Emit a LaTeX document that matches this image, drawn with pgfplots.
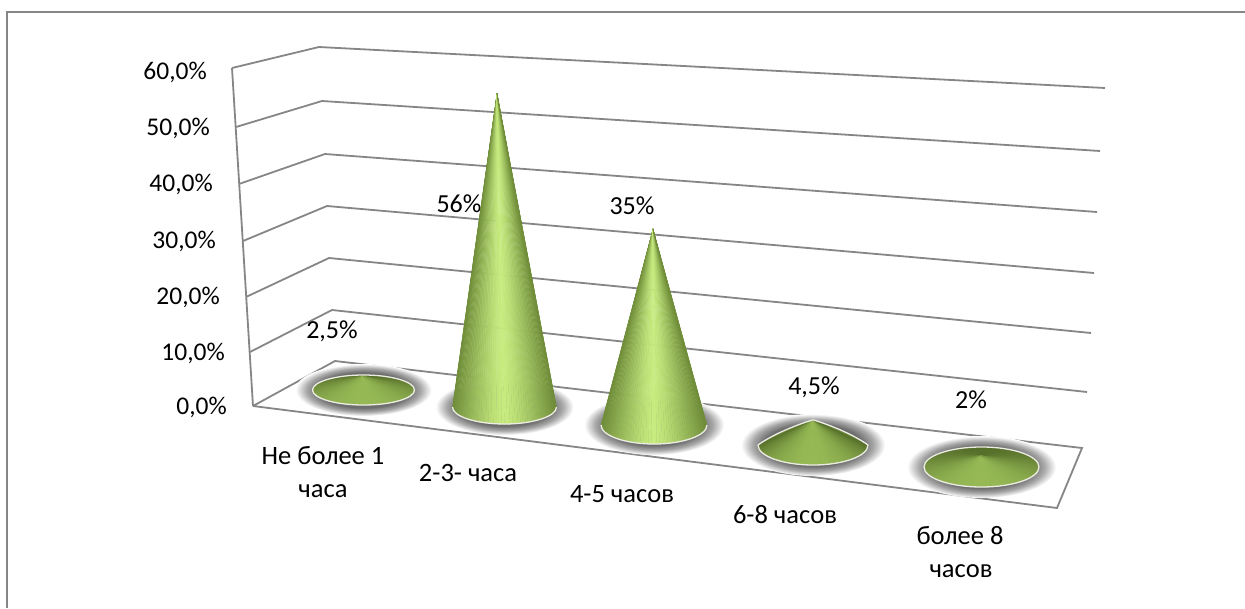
\documentclass[border=0pt]{standalone}
\usepackage{pgfplots}
\usepackage{pgfplotstable}
\usepackage{fontspec}
\setmainfont{Carlito}
\pgfplotsset{compat=1.18}
\definecolor{gridc}{HTML}{868686}
\definecolor{glowc}{HTML}{6E6E6E}
\definecolor{glowm}{HTML}{A8A8A8}
\definecolor{tallhi}{HTML}{C8EC80}
\definecolor{talllo}{HTML}{6F8D38}
\definecolor{lowhi}{HTML}{96B955}
\definecolor{lowlo}{HTML}{566F2A}
\definecolor{rimc}{HTML}{ECECE4}
\pgfdeclareradialshading{glow}{\pgfpoint{0bp}{0bp}}{color(0bp)=(glowc); color(17bp)=(glowc); color(21bp)=(glowm); color(25bp)=(white); color(50bp)=(white)}
% px, py: base centre in picture pixels; pct: percentage; rest: cone footprint
% low: 0 tall cone, 1 flat cone seen from above, 2 flat cone with its tip above the rim
\pgfplotstableread{
px     py   rx    ry   rot   dx    pct    low
363.5  390  51    15   2.7   0     2.5    1
504.5  407  52    17   1     -7.5  56     0
654    425  53    19   0     -1    35     0
813    445  55    20   0     0     4.5    2
981.5  467  57.5  20   -3    0     2      1
}\conetable
\newcommand\conebody{%
  \pgfmathsetmacro\cH{\val*5.6}%
  \pgfmathtruncatemacro\lowi{\low}%
  \begin{scope}[rotate=\rot]
  \ifnum\lowi=1
    \foreach \t in {0,4,...,356}{%
      \pgfmathsetmacro\b{50-50*sin(\t+2)}%
      \pgfmathsetmacro\te{\t+4}%
      \fill[lowhi!\b!lowlo,draw=lowhi!\b!lowlo,line width=0.5pt,line join=round]
        (\dx pt,\cH pt) -- (\t:\rx pt and \ry pt) -- (\te:\rx pt and \ry pt) -- cycle;
    }
    \draw[rimc,line width=1.3pt] (0,0) ellipse [x radius=\rx pt,y radius=\ry pt];
  \else
  \ifnum\lowi=2
    \pgfmathsetmacro\ca{0.72*\rx}\pgfmathsetmacro\cb{0.55*\ry}%
    \pgfmathsetmacro\cc{0.3*\rx}\pgfmathsetmacro\cd{0.8*\cH}%
    \def\silhouette{(-\rx pt,0) arc [start angle=180,end angle=360,x radius=\rx pt,y radius=\ry pt]
      .. controls (\ca pt,\cb pt) and (\cc pt,\cd pt) .. (\dx pt,\cH pt)
      .. controls (-\cc pt,\cd pt) and (-\ca pt,\cb pt) .. cycle}%
    \fill[lowhi!25!lowlo] \silhouette;
    \foreach \t in {180,184,...,356}{%
      \pgfmathsetmacro\b{100*(-sin(\t+2))}%
      \pgfmathsetmacro\te{\t+4}%
      \fill[lowhi!\b!lowlo,draw=lowhi!\b!lowlo,line width=0.5pt,line join=round]
        (\dx pt,\cH pt) -- (\t:\rx pt and \ry pt) -- (\te:\rx pt and \ry pt) -- cycle;
    }
    \draw[rimc,line width=1.3pt,line join=round] \silhouette;
  \else
    \foreach \t in {180,183,...,357}{%
      \pgfmathsetmacro\b{100*(1-abs(cos(\t+1.5))^1.3)}%
      \pgfmathsetmacro\te{\t+3}%
      \fill[tallhi!\b!talllo,draw=tallhi!\b!talllo,line width=0.3pt,line join=round]
        (\dx pt,\cH pt) -- (\t:\rx pt and \ry pt) -- (\te:\rx pt and \ry pt) -- cycle;
    }
    \draw[rimc,line width=1.3pt] (-\rx pt,0) arc [start angle=180,end angle=360,x radius=\rx pt,y radius=\ry pt];
  \fi\fi
  \end{scope}%
}
\pgfplotsset{
  conedata/.style={
    only marks,scatter,mark=*,mark size=0pt,draw=none,fill=none,
    visualization depends on={\thisrow{rx}\as\rx},
    visualization depends on={\thisrow{ry}\as\ry},
    visualization depends on={\thisrow{rot}\as\rot},
    visualization depends on={\thisrow{dx}\as\dx},
    visualization depends on={\thisrow{pct}\as\val},
    visualization depends on={\thisrow{low}\as\low},
  },
  gl/.style={gridc,line width=1.8pt,line join=miter,mark=none,forget plot},
}
\tikzset{
  tck/.style={font=\fontsize{25.5}{30}\selectfont,text=black,inner sep=0pt},
  lab/.style={font=\fontsize{26}{30}\selectfont,text=black,inner sep=0pt},
  cat/.style={font=\fontsize{26.5}{30}\selectfont,text=black,inner sep=0pt},
}
\begin{document}
\begin{tikzpicture}
\useasboundingbox (0,0) rectangle (1245pt,608pt);
\begin{axis}[
  anchor=south west,at={(0,0)},
  x=1pt,y=1pt,xmin=0,xmax=1245,ymin=0,ymax=608,y dir=reverse,
  hide axis,clip=false,
]
% glow under the cones
\addplot[conedata,
  scatter/@pre marker code/.code={\scope
    \pgfmathsetmacro\grx{\rx+17}\pgfmathsetmacro\gry{\ry+11}%
    \shade[shading=glow] (0,0) ellipse [x radius=\grx pt,y radius=\gry pt];},
  scatter/@post marker code/.code={\endscope},
] table[x=px,y=py] {\conetable};
% frame
\addplot[gridc,line width=2pt,mark=none] coordinates {(7,608) (7,12) (1245,12)};
% walls: value lines 60 ... 0 %, front-left, back-left, back-right
\addplot[gl] coordinates {(253,406) (232,68)};
\addplot[gl] coordinates {(232,68) (319,47) (1105,88)};
\addplot[gl] coordinates {(236,127) (322,101) (1100,151)};
\addplot[gl] coordinates {(239,184) (325,154) (1097,212)};
\addplot[gl] coordinates {(243,241) (327,206) (1094,273)};
\addplot[gl] coordinates {(246,297) (329,258) (1091,333)};
\addplot[gl] coordinates {(250,352) (332,310) (1087,392)};
\addplot[gl] coordinates {(253,406) (335,361) (1082,448) (1057,508) (253,406)};
% cones
\addplot[conedata,
  scatter/@pre marker code/.code={\scope\conebody},
  scatter/@post marker code/.code={\endscope},
] table[x=px,y=py] {\conetable};
% value tick labels
\node[tck,anchor=base east] at (axis cs:207,79) {60,0\%};
\node[tck,anchor=base east] at (axis cs:210,135) {50,0\%};
\node[tck,anchor=base east] at (axis cs:213,191) {40,0\%};
\node[tck,anchor=base east] at (axis cs:216,248) {30,0\%};
\node[tck,anchor=base east] at (axis cs:220,304) {20,0\%};
\node[tck,anchor=base east] at (axis cs:225,360) {10,0\%};
\node[tck,anchor=base east] at (axis cs:227,414) {0,0\%};
% data labels
\node[lab,anchor=base] at (axis cs:332,338) {2,5\%};
\node[lab,anchor=base] at (axis cs:459,212) {56\%};
\node[lab,anchor=base] at (axis cs:632,214) {35\%};
\node[lab,anchor=base] at (axis cs:814,394) {4,5\%};
\node[lab,anchor=base] at (axis cs:971,408) {2\%};
% category labels
\node[cat,anchor=base] at (axis cs:323,464) {Не более 1};
\node[cat,anchor=base] at (axis cs:323,497) {часа};
\node[cat,anchor=base] at (axis cs:468,481) {2-3- часа};
\node[cat,anchor=base] at (axis cs:622,502) {4-5 часов};
\node[cat,anchor=base] at (axis cs:785,523) {6-8 часов};
\node[cat,anchor=base] at (axis cs:960,544) {более 8};
\node[cat,anchor=base] at (axis cs:961,577) {часов};
\end{axis}
\end{tikzpicture}
\end{document}
